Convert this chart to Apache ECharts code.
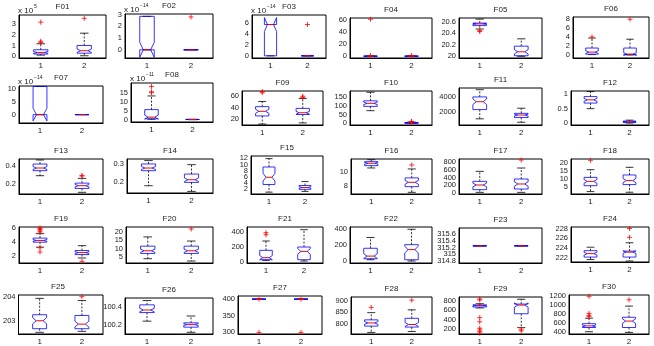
<!DOCTYPE html>
<html>
<head>
<meta charset="utf-8">
<script src="https://cdn.jsdelivr.net/npm/echarts@6/dist/echarts.min.js"></script>
<style>
  html, body { margin: 0; background: #fff; }
  #app { width: 654px; height: 346px; }
</style>
</head>
<body>
<div id="app"></div>
<script>
const names = ['F01', 'F02', 'F03', 'F04', 'F05', 'F06', 'F07', 'F08', 'F09', 'F10',
  'F11', 'F12', 'F13', 'F14', 'F15', 'F16', 'F17', 'F18', 'F19', 'F20',
  'F21', 'F22', 'F23', 'F24', 'F25', 'F26', 'F27', 'F28', 'F29', 'F30'];
const groups = ['1', '2'];

// [lower whisker, q1, median, q3, upper whisker] for group 1 and group 2
const boxes = [
  [[0.12, 0.22, 0.37, 0.62, 1.18], [0.06, 0.30, 0.53, 1.02, 2.17]],
  [[0, 0, 0, 2.85, 2.85], [0, 0, 0, 0, 0]],
  [[0, 0, 5.75, 5.75, 5.75], [0, 0, 0, 0, 0]],
  [[0, 0.1, 0.3, 0.5, 1.0], [0, 0.1, 0.3, 0.5, 1.0]],
  [[20.475, 20.535, 20.565, 20.58, 20.65], [19.99, 20.0, 20.07, 20.17, 20.3]],
  [[0.1, 0.2, 0.65, 1.55, 3.75], [0, 0.15, 0.2, 1.55, 3.5]],
  [[0, 0, 0, 11.1, 11.1], [0, 0, 0, 0, 0]],
  [[0.2, 0.5, 1.4, 5.6, 13.2], [0, 0.05, 0.1, 0.15, 0.2]],
  [[12, 26, 34, 42, 51], [14, 28.5, 31.5, 39, 56]],
  [[71, 95, 112, 126, 174], [0, 1, 3, 5, 8]],
  [[1174, 2348, 3348, 3957, 4870], [739, 1348, 1652, 1870, 2522]],
  [[0.5, 0.69, 0.8, 0.91, 1.08], [0.01, 0.033, 0.055, 0.078, 0.11]],
  [[0.294, 0.351, 0.381, 0.426, 0.472], [0.106, 0.15, 0.181, 0.21, 0.264]],
  [[0.177, 0.262, 0.277, 0.3, 0.319], [0.145, 0.196, 0.211, 0.243, 0.296]],
  [[1.1, 3.57, 5.9, 9.2, 11.9], [1.35, 2.0, 2.6, 3.25, 4.5]],
  [[10.62, 10.95, 11.29, 11.52, 11.8], [7.14, 7.95, 8.57, 9.2, 10.48]],
  [[17, 87, 209, 304, 565], [17, 104, 235, 365, 652]],
  [[2.1, 5.8, 8.5, 11, 15.8], [1.7, 6.5, 9, 12.5, 17.3]],
  [[3.29, 4.0, 4.24, 4.57, 5.2], [1.76, 2.24, 2.52, 2.81, 3.5]],
  [[3.8, 7, 8.6, 11.4, 17], [2.4, 7, 8.6, 11.4, 14.5]],
  [[22, 31, 58, 156, 280], [13, 31, 142, 200, 431]],
  [[16, 29, 62, 161, 297], [0, 16, 144, 206, 400]],
  [[315.25, 315.25, 315.25, 315.25, 315.25], [315.25, 315.25, 315.25, 315.25, 315.25]],
  [[221.7, 222.2, 222.9, 223.5, 224.2], [221.4, 222.2, 223.2, 223.4, 225.1]],
  [[202.52, 202.67, 203.0, 203.25, 203.93], [202.56, 202.67, 202.86, 203.22, 203.84]],
  [[100.24, 100.34, 100.37, 100.43, 100.48], [100.11, 100.17, 100.2, 100.22, 100.3]],
  [[400, 400, 400, 400, 400], [400, 400, 400, 400, 400]],
  [[761, 789, 803, 816.7, 848.6], [765, 784.7, 796, 823.6, 861]],
  [[650, 670, 700, 715, 740], [233, 527, 711, 732, 834]],
  [[400, 494, 530, 579, 700], [385, 494, 636, 721, 968]]
];

// outliers for group 1 and group 2
const outliers = [
  [[1.30, 1.42, 3.20], [3.56]],
  [[], [2.8]],
  [[], [5.75]],
  [[1.5, 61], [1.5]],
  [[20.45, 20.43], []],
  [[4.0], [7.9]],
  [[], []],
  [[15, 15.5, 18.5], []],
  [[66, 68], [58, 60]],
  [[], [9, 11]],
  [[], []],
  [[], []],
  [[], [0.29, 0.297]],
  [[], []],
  [[], []],
  [[], [11.05]],
  [[], [861]],
  [[21.7], []],
  [[5.43, 5.57, 5.76, 5.9, 6.0, 3.2, 2.6], [1.29]],
  [[], [21.8]],
  [[364, 391], []],
  [[], []],
  [[], []],
  [[], [226.2, 228]],
  [[], [204.0]],
  [[], []],
  [[300, 399.6], [300, 399.6]],
  [[872], [904]],
  [[820, 840, 445, 356, 220, 186, 150, 116], [200, 166]],
  [[735, 763, 806, 1185], [1108]]
];

const yRanges = [
  [-0.15, 3.87], [-0.7, 3.05], [-0.4, 7.5], [-2.7, 63], [19.96, 20.67], [-0.65, 8.4],
  [-3.3, 11.3], [-1.3, 20.4], [10.4, 69], [-9, 181], [391, 5090], [-0.055, 1.1],
  [0.087, 0.483], [0.136, 0.328], [0.5, 12.75], [6.9, 11.9], [-26, 887], [0.6, 22.5],
  [1.05, 6.14], [1.2, 23], [-13, 467], [-25, 429], [314.74, 315.78], [221.2, 228.3],
  [202.45, 204.07], [100.09, 100.51], [295, 409.5], [754, 918], [98, 882], [350, 1214]
];

const yTicks = [
  [0, 1, 2, 3], [0, 1, 2, 3], [0, 2, 4, 6], [0, 20, 40, 60], [20, 20.2, 20.4, 20.6], [0, 2, 4, 6, 8],
  [0, 5, 10], [0, 5, 10, 15], [20, 40, 60], [0, 50, 100, 150], [2000, 4000], [0, 0.5, 1],
  [0.2, 0.4], [0.2, 0.3], [2, 4, 6, 8, 10, 12], [8, 10], [0, 200, 400, 600, 800], [5, 10, 15, 20],
  [2, 4, 6], [5, 10, 15, 20], [0, 200, 400], [0, 200, 400], [314.8, 315, 315.2, 315.4, 315.6], [222, 224, 226, 228],
  [203, 204], [100.2, 100.4], [300, 350, 400], [800, 850, 900], [200, 400, 600, 800], [400, 600, 800, 1000, 1200]
];

const exponents = { F01: '5', F02: '\u221214', F03: '\u221214', F07: '\u221214', F08: '\u221211' };

// plot frame of each panel: [left, top, right, bottom] in px
const frames = [
  [19, 15, 106, 58], [125, 14, 213, 58], [252, 15, 326, 58], [350, 18, 432, 58], [459, 18, 542, 58], [573, 17, 649, 58],
  [19, 86, 103, 123], [131, 83, 213, 122], [242, 91, 323, 125], [350, 91, 432, 125], [459, 88, 542, 125], [571, 91, 649, 125],
  [19, 159, 103, 194], [127, 159, 213, 193], [251, 156, 323, 194], [351, 159, 432, 194], [459, 159, 542, 194], [571, 159, 649, 194],
  [19, 227, 103, 263], [126, 227, 213, 263], [247, 227, 323, 263], [350, 227, 432, 263], [459, 228, 542, 263], [571, 227, 649, 262],
  [13, 295, 103, 335], [125, 298, 213, 335], [238, 296, 322, 335], [351, 297, 432, 335], [459, 297, 542, 335], [569, 295, 649, 335]
];

const FONT = 'Liberation Sans';
const TXT = '#222';

// notched box like matlab: notch = median +- 1.57*IQR/sqrt(50)
function renderBox(params, api) {
  const idx = api.value(0);
  const mn = api.value(1), q1 = api.value(2), md = api.value(3), q3 = api.value(4), mx = api.value(5);
  const k = 0.222 * (q3 - q1);
  const y = v => api.coord([idx, v])[1];
  const c = api.coord([idx, md])[0];
  const hw = api.size([1, 0])[0] * 0.165;
  const x1 = c - hw, x4 = c + hw, x2 = c - hw / 2, x3 = c + hw / 2;
  const cw = hw * 0.6;
  const pts = [
    [x1, y(q1)], [x1, y(md - k)], [x2, y(md)], [x1, y(md + k)], [x1, y(q3)],
    [x4, y(q3)], [x4, y(md + k)], [x3, y(md)], [x4, y(md - k)], [x4, y(q1)]
  ];
  const whisk = { stroke: '#000', lineWidth: 0.8, lineDash: [2, 1.5] };
  const cap = { stroke: '#000', lineWidth: 0.8 };
  return {
    type: 'group',
    children: [
      { type: 'line', shape: { x1: c, y1: y(q3), x2: c, y2: y(mx) }, style: whisk },
      { type: 'line', shape: { x1: c, y1: y(q1), x2: c, y2: y(mn) }, style: whisk },
      { type: 'line', shape: { x1: c - cw, y1: y(mx), x2: c + cw, y2: y(mx) }, style: cap },
      { type: 'line', shape: { x1: c - cw, y1: y(mn), x2: c + cw, y2: y(mn) }, style: cap },
      { type: 'polygon', shape: { points: pts }, style: { fill: 'none', stroke: '#0000ff', lineWidth: 0.8 } },
      { type: 'line', shape: { x1: x2, y1: y(md), x2: x3, y2: y(md) }, style: { stroke: '#ff0000', lineWidth: 1 } }
    ]
  };
}

const grid = [], xAxis = [], yAxis = [], series = [], graphic = [];

function yLabelAxis(i, lo, hi, values) {
  // labels only; crowded tick labels are split over two axes so none gets dropped
  return {
    type: 'value', gridIndex: i, min: lo, max: hi, position: 'left',
    splitLine: { show: false }, axisLine: { show: false }, axisTick: { show: false },
    axisLabel: {
      fontSize: 7.5, fontFamily: FONT, color: TXT, margin: 3,
      showMinLabel: true, showMaxLabel: true,
      customValues: values, formatter: v => String(v)
    }
  };
}

names.forEach((name, i) => {
  const [l, t, r, b] = frames[i];
  grid.push({
    left: l, top: t, width: r - l, height: b - t,
    show: true, borderColor: '#000', borderWidth: 1, backgroundColor: 'transparent'
  });
  xAxis.push({
    type: 'category', data: groups, gridIndex: i,
    axisLine: { onZero: false, lineStyle: { color: '#000', width: 1 } },
    axisTick: { inside: true, alignWithLabel: true, length: 2, lineStyle: { color: '#000' } },
    axisLabel: { fontSize: 8, fontFamily: FONT, color: TXT, margin: 4 }
  });
  const [lo, hi] = yRanges[i];
  const ticks = yTicks[i];
  // main axis: line + ticks on both sides
  yAxis.push({
    type: 'value', gridIndex: i, min: lo, max: hi,
    splitLine: { show: false },
    axisLine: { show: true, onZero: false, lineStyle: { color: '#000', width: 1 } },
    axisTick: { inside: true, length: 2, customValues: ticks, lineStyle: { color: '#000' } },
    axisLabel: { show: false }
  });
  yAxis.push({
    type: 'value', gridIndex: i, min: lo, max: hi, position: 'right',
    splitLine: { show: false },
    axisLine: { show: false },
    axisTick: { inside: true, length: 2, customValues: ticks, lineStyle: { color: '#000' } },
    axisLabel: { show: false }
  });
  yAxis.push(yLabelAxis(i, lo, hi, ticks.filter((v, j) => j % 2 === 0)));
  yAxis.push(yLabelAxis(i, lo, hi, ticks.filter((v, j) => j % 2 === 1)));

  series.push({
    type: 'custom', xAxisIndex: i, yAxisIndex: 4 * i,
    renderItem: renderBox, silent: true, animation: false,
    encode: { x: 0, y: [1, 2, 3, 4, 5] },
    data: boxes[i].map((s, g) => [g].concat(s))
  });
  const pts = [];
  outliers[i].forEach((vals, g) => vals.forEach(v => pts.push([g, v])));
  series.push({
    type: 'scatter', xAxisIndex: i, yAxisIndex: 4 * i, silent: true, animation: false,
    symbol: 'path://M5 0V10M0 5H10', symbolSize: 5,
    itemStyle: { color: 'none', borderColor: '#ff0000', borderWidth: 1 },
    data: pts
  });
  graphic.push({
    type: 'text', x: (l + r) / 2, y: t - 8,
    style: { text: name, fontSize: 8, fontFamily: FONT, fill: TXT, align: 'center', verticalAlign: 'middle' }
  });
  if (exponents[name]) {
    graphic.push({
      type: 'text', x: l - 1, y: t - 4,
      style: { text: 'x 10', fontSize: 8, fontFamily: FONT, fill: TXT, align: 'left', verticalAlign: 'middle' }
    });
    graphic.push({
      type: 'text', x: l + 15, y: t - 8,
      style: { text: exponents[name], fontSize: 5, fontFamily: FONT, fill: TXT, align: 'left', verticalAlign: 'middle' }
    });
  }
});

const chart = echarts.init(document.getElementById('app'), null, { renderer: 'canvas' });
chart.setOption({
  backgroundColor: '#fff',
  animation: false,
  grid, xAxis, yAxis, series, graphic
});
</script>
</body>
</html>
